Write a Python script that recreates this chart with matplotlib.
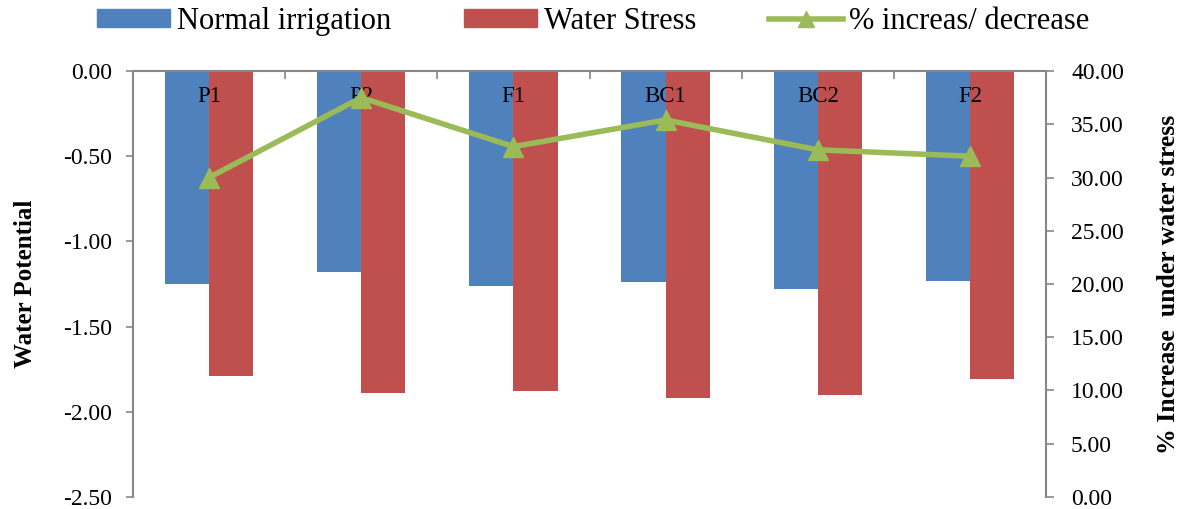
import matplotlib
matplotlib.use("Agg")
import matplotlib.pyplot as plt
import numpy as np
from matplotlib.lines import Line2D
from matplotlib.patches import Patch

categories = ["P1", "P2", "F1", "BC1", "BC2", "F2"]
normal_irrigation = [-1.25, -1.18, -1.26, -1.24, -1.28, -1.23]
water_stress = [-1.79, -1.89, -1.88, -1.92, -1.90, -1.81]
pct_change = [30.0, 37.5, 32.9, 35.4, 32.6, 32.0]
left_ticks = [0.0, -0.5, -1.0, -1.5, -2.0, -2.5]
right_ticks = [0, 5, 10, 15, 20, 25, 30, 35, 40]

BLUE = "#4F81BD"
RED = "#C0504D"
GREEN = "#9BBB59"
GRAY = "#868686"

plt.rcParams['font.family'] = ['Liberation Serif', 'DejaVu Serif']

fig = plt.figure(figsize=(11.86, 5.09), dpi=100)
ax = fig.add_axes([0.1121, 0.0236, 0.882 - 0.1121, 0.8605 - 0.0236])

x = np.arange(len(categories)) + 0.5
w = 0.29
ax.bar(x - w / 2, normal_irrigation, width=w, color=BLUE, label="Normal irrigation", zorder=2)
ax.bar(x + w / 2, water_stress, width=w, color=RED, label="Water Stress", zorder=2)

ax.set_xlim(0, len(categories))
ax.set_ylim(-2.5, 0)
ax.set_yticks(left_ticks)
ax.set_yticklabels([f"{v:.2f}" for v in left_ticks], fontsize=17)
ax.set_ylabel("Water Potential", fontsize=18, fontweight="bold", labelpad=19)

ax.xaxis.tick_top()
ax.set_xticks(np.arange(0, len(categories) + 1))
ax.set_xticklabels([])
ax.tick_params(axis='x', direction='in', length=6, color=GRAY, width=1.2)
ax.tick_params(axis='y', direction='out', length=5, color=GRAY, width=1.2, pad=10)

for sp in ["bottom", "right"]:
    ax.spines[sp].set_visible(False)
for sp in ["left", "top"]:
    ax.spines[sp].set_color(GRAY)
    ax.spines[sp].set_linewidth(1.5)

for xi, c in zip(x, categories):
    ax.text(xi, -0.15, c, ha="center", va="center", fontsize=16.5, zorder=5)

ax2 = ax.twinx()
ax2.plot(x, pct_change, color=GREEN, lw=4, marker="^", markersize=14,
         label="% increas/ decrease", zorder=4)
ax2.set_ylim(0, 40)
ax2.set_yticks(right_ticks)
ax2.set_yticklabels([f"{v:.2f}" for v in right_ticks], fontsize=17)
ax2.tick_params(axis='y', direction='out', length=6, color=GRAY, width=1.2, pad=12)
ax2.set_ylabel("% Increase  under water stress", fontsize=18.5, fontweight="bold",
               labelpad=24)
for sp in ["bottom", "left", "top"]:
    ax2.spines[sp].set_visible(False)
ax2.spines["right"].set_color(GRAY)
ax2.spines["right"].set_linewidth(1.5)

handles = [Patch(color=BLUE), Patch(color=RED),
           Line2D([0], [0], color=GREEN, lw=4, marker="^", markersize=12)]
labels = ["Normal irrigation", "Water Stress", "% increas/ decrease"]
fig.legend(handles, labels, loc="center", bbox_to_anchor=(0.5, 0.958), ncol=3,
           frameon=False, fontsize=22, handlelength=2.4, handleheight=0.5,
           columnspacing=2.4, handletextpad=0.2)

fig.savefig("out.png", dpi=100)
